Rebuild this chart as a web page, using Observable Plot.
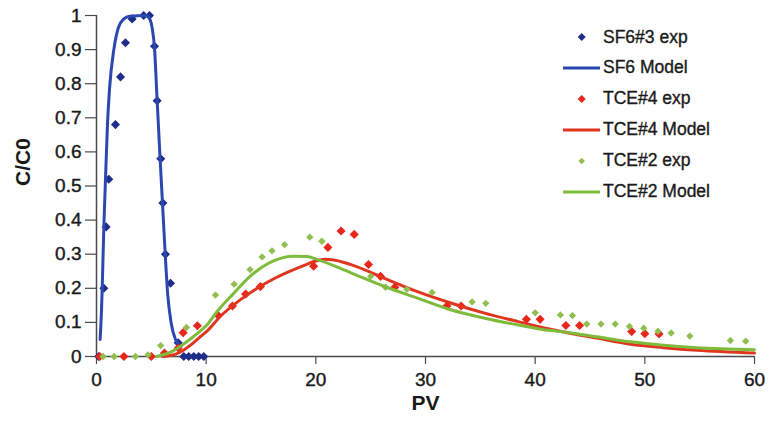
<!DOCTYPE html>
<html>
<head>
<meta charset="utf-8">
<script src="https://cdn.jsdelivr.net/npm/d3@7"></script>
<script src="https://cdn.jsdelivr.net/npm/@observablehq/plot@0.6"></script>
<style>
  html, body { margin: 0; padding: 0; background: #fff; }
  #wrap { position: relative; width: 770px; height: 427px; font-family: "Liberation Sans", Arial, sans-serif; }
  #legend { position: absolute; left: 560px; top: 25px; }
  .row { position: absolute; left: 0; height: 24px; width: 200px; display: flex; align-items: center; white-space: nowrap; }
  .row svg { flex: none; }
  .row span { font-size: 17.5px; color: #1a1a1a; margin-left: 2px; -webkit-text-stroke: 0.35px #1a1a1a; }
  [aria-label$="tick label"] text { stroke: #1a1a1a; stroke-width: 0.4px; }
</style>
</head>
<body>
<div id="wrap"><div id="chart"></div><div id="legend"></div></div>
<script>
// ---- data ----
const sf6Exp = [[0.2,0],[0.67,0.2],[0.88,0.38],[1.12,0.52],[1.73,0.68],[2.19,0.82],[2.64,0.92],[3.25,0.99],[4.3,1.0],[4.83,1.0],[5.29,0.91],[5.53,0.75],[5.86,0.58],[6.05,0.45],[6.29,0.30],[6.75,0.215],[7.45,0.04],[7.96,0],[8.41,0],[8.87,0],[9.32,0],[9.78,0]];
const sf6Model = [[0.33,0.05],[0.45,0.13],[0.52,0.2],[0.67,0.38],[0.82,0.52],[1.0,0.68],[1.2,0.79],[1.58,0.9],[2.0,0.965],[2.5,0.99],[3.0,0.998],[4.5,1.0],[4.85,0.99],[5.07,0.965],[5.3,0.9],[5.5,0.77],[5.8,0.58],[6.05,0.43],[6.3,0.28],[6.5,0.18],[6.8,0.1],[7.2,0.05],[7.7,0.03]];
const tce4Exp = [[0.3,0],[2.5,0],[5.0,0],[6.2,0.01],[7.45,0.025],[7.9,0.07],[9.2,0.09],[11.1,0.12],[12.4,0.148],[13.6,0.183],[14.95,0.205],[19.8,0.265],[21.1,0.32],[22.3,0.368],[23.5,0.358],[24.8,0.27],[25.9,0.235],[27.2,0.203],[31.95,0.148],[33.25,0.148],[39.2,0.109],[40.45,0.109],[42.8,0.091],[44.05,0.091],[48.8,0.073],[50.0,0.067],[51.3,0.066]];
const tce4Model = [[6.0,0],[7.05,0.005],[8.0,0.02],[8.6,0.034],[9.5,0.059],[10.1,0.075],[11.3,0.118],[13.1,0.166],[14.65,0.2],[16.0,0.225],[17.5,0.248],[19.0,0.268],[20.0,0.28],[20.8,0.285],[21.5,0.284],[23.15,0.27],[26.2,0.23],[29.2,0.191],[32.3,0.157],[35.3,0.128],[38.35,0.103],[41.4,0.08],[42.6,0.072],[45.6,0.054],[48.7,0.036],[51.7,0.026],[54.75,0.018],[60,0.01]];
const tce2Exp = [[0.6,0],[1.6,0],[3.55,0],[4.7,0.005],[5.85,0.032],[8.2,0.085],[10.85,0.18],[12.55,0.212],[14.0,0.255],[15.1,0.292],[16.0,0.31],[17.15,0.328],[19.45,0.35],[20.55,0.338],[25.0,0.235],[26.35,0.203],[28.3,0.197],[30.6,0.188],[34.25,0.16],[35.5,0.156],[40.0,0.128],[42.3,0.122],[43.4,0.12],[44.7,0.095],[46.0,0.095],[47.3,0.095],[48.6,0.088],[49.9,0.083],[51.2,0.074],[52.4,0.069],[54.1,0.06],[57.8,0.047],[59.2,0.045]];
const tce2Model = [[5.5,0],[6.9,0.015],[7.66,0.03],[8.5,0.05],[9.2,0.068],[10.0,0.09],[11.0,0.132],[12.5,0.185],[14.0,0.235],[15.6,0.272],[17.0,0.29],[18.0,0.294],[19.2,0.293],[20.1,0.285],[23.15,0.246],[26.2,0.206],[29.2,0.172],[32.3,0.137],[35.3,0.113],[38.35,0.093],[41.4,0.076],[42.6,0.072],[45.6,0.058],[48.7,0.043],[51.7,0.033],[54.75,0.026],[60,0.02]];
const xTicks = [0,10,20,30,40,50,60];
const yTicks = [0,0.1,0.2,0.3,0.4,0.5,0.6,0.7,0.8,0.9,1];
const legendItems = [
  {label:"SF6#3 exp", type:"dot", color:"#1f2d8a", size:8},
  {label:"SF6 Model", type:"line", color:"#2c47b0"},
  {label:"TCE#4 exp", type:"dot", color:"#e8261b", size:8},
  {label:"TCE#4 Model", type:"line", color:"#e0361f"},
  {label:"TCE#2 exp", type:"dot", color:"#8fc04f", size:6.5},
  {label:"TCE#2 Model", type:"line", color:"#7fbb3a"}
];

const X = d => d[0], Y = d => d[1];
const axisColor = "#4a4a4a";

const chart = Plot.plot({
  width: 770,
  height: 427,
  marginLeft: 96,
  marginRight: 16,
  marginTop: 15,
  marginBottom: 71,
  style: {fontFamily: "'Liberation Sans', Arial, sans-serif", background: "#fff", color: "#1a1a1a"},
  x: {domain: [0, 60]},
  y: {domain: [0, 1]},
  marks: [
    Plot.axisY({ticks: yTicks, tickFormat: d => String(+d.toFixed(1)), tickSize: 11, tickPadding: 4, fontSize: 19, stroke: axisColor, strokeWidth: 1.2, label: null}),
    Plot.axisX({ticks: xTicks, tickFormat: d => String(d), tickSize: 8, tickPadding: 8, fontSize: 19, stroke: axisColor, strokeWidth: 1.2, label: null}),
    Plot.ruleX([0], {stroke: axisColor, strokeWidth: 1.5}),
    Plot.ruleY([0], {stroke: axisColor, strokeWidth: 1.5}),
    Plot.dot(sf6Exp, {x: X, y: Y, symbol: "diamond2", r: 4.1, fill: "#1f2d8a", stroke: "none"}),
    Plot.line(sf6Model, {x: X, y: Y, stroke: "#2c47b0", strokeWidth: 3, curve: "monotone-x"}),
    Plot.dot(tce4Exp, {x: X, y: Y, symbol: "diamond2", r: 4.1, fill: "#e8261b", stroke: "none"}),
    Plot.line(tce4Model, {x: X, y: Y, stroke: "#e0361f", strokeWidth: 3, curve: "monotone-x"}),
    Plot.dot(tce2Exp, {x: X, y: Y, symbol: "diamond2", r: 3.3, fill: "#8fc04f", stroke: "none"}),
    Plot.line(tce2Model, {x: X, y: Y, stroke: "#7fbb3a", strokeWidth: 3, curve: "monotone-x"}),
    Plot.text(["C/C0"], {frameAnchor: "left", text: d => d, rotate: -90, dx: -73, fontSize: 21, fontWeight: "bold", fill: "#1a1a1a"}),
    Plot.text(["PV"], {frameAnchor: "bottom", text: d => d, dy: 53, fontSize: 21, fontWeight: "bold", fill: "#1a1a1a"})
  ]
});
document.getElementById("chart").appendChild(chart);

// legend
const legend = document.getElementById("legend");
legendItems.forEach((it, i) => {
  const row = document.createElement("div");
  row.className = "row";
  row.style.top = (i * 30.9) + "px";
  const ns = "http://www.w3.org/2000/svg";
  const s = document.createElementNS(ns, "svg");
  s.setAttribute("width", 41); s.setAttribute("height", 24);
  if (it.type === "line") {
    const l = document.createElementNS(ns, "line");
    l.setAttribute("x1", 3); l.setAttribute("x2", 40); l.setAttribute("y1", 12); l.setAttribute("y2", 12);
    l.setAttribute("stroke", it.color); l.setAttribute("stroke-width", 3);
    s.appendChild(l);
  } else {
    const h = it.size / 2, cx = 21.7, cy = 12;
    const p = document.createElementNS(ns, "path");
    p.setAttribute("d", `M${cx},${cy-h}L${cx+h},${cy}L${cx},${cy+h}L${cx-h},${cy}Z`);
    p.setAttribute("fill", it.color);
    s.appendChild(p);
  }
  row.appendChild(s);
  const t = document.createElement("span");
  t.textContent = it.label;
  row.appendChild(t);
  legend.appendChild(row);
});
</script>
</body>
</html>
